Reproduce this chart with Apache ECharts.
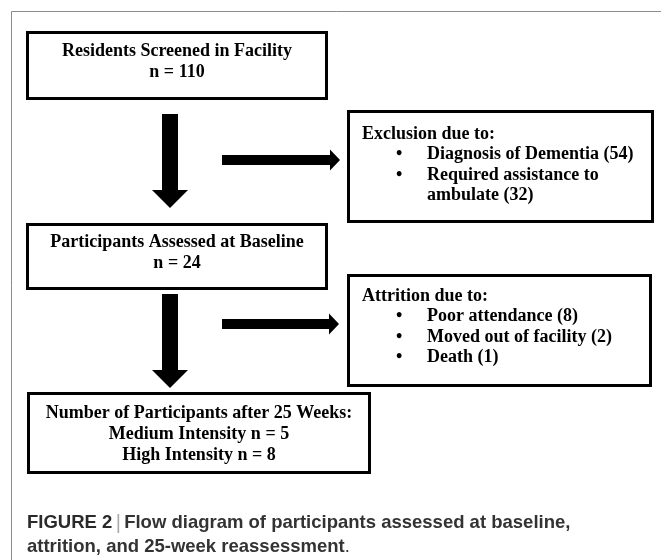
<!DOCTYPE html>
<html>
<head>
<meta charset="utf-8">
<script src="https://cdn.jsdelivr.net/npm/echarts@6/dist/echarts.min.js"></script>
<style>
  html, body { margin: 0; padding: 0; background: #fff; }
  #chart { width: 661px; height: 560px; }
</style>
</head>
<body>
<div id="chart"></div>
<script>
// flow steps (main column)
var stepTitles = ["Residents Screened in Facility", "Participants Assessed at Baseline", "Number of Participants after 25 Weeks:"];
var stepCounts = [110, 24];
var finalGroups = ["Medium Intensity", "High Intensity"];
var finalCounts = [5, 8];

// side boxes
var exclusionReasons = ["Diagnosis of Dementia", "Required assistance to\nambulate"];
var exclusionCounts = [54, 32];
var attritionReasons = ["Poor attendance", "Moved out of facility", "Death"];
var attritionCounts = [8, 2, 1];

var captionBold = "FIGURE 2";
var captionLines = ["Flow diagram of participants assessed at baseline,", "attrition, and 25-week reassessment"];

var serif = '"Liberation Serif", "Times New Roman", serif';
var boxFont = { fontFamily: serif, fontWeight: "bold", fontSize: 18, fill: "#000" };

function box(x, y, w, h) {
  return {
    type: "rect",
    shape: { x: x, y: y, width: w, height: h },
    style: { fill: "none", stroke: "#000", lineWidth: 3 }
  };
}

function centerText(txt, cx, cy) {
  return {
    type: "text",
    x: cx, y: cy,
    style: Object.assign({ text: txt, textAlign: "center", textVerticalAlign: "middle", lineHeight: 21 }, boxFont)
  };
}

function leftText(txt, x, cy) {
  return {
    type: "text",
    x: x, y: cy,
    style: Object.assign({ text: txt, textAlign: "left", textVerticalAlign: "middle", lineHeight: 20.5 }, boxFont)
  };
}

function downArrow(cx, top, headTop, tip) {
  return {
    type: "polygon",
    shape: {
      points: [[cx - 8, top], [cx + 8, top], [cx + 8, headTop], [cx + 18, headTop],
               [cx, tip], [cx - 18, headTop], [cx - 8, headTop]]
    },
    style: { fill: "#000" }
  };
}

function rightArrow(left, headLeft, tip, cy) {
  return {
    type: "polygon",
    shape: {
      points: [[left, cy - 5], [headLeft, cy - 5], [headLeft, cy - 10.5], [tip, cy],
               [headLeft, cy + 10.5], [headLeft, cy + 5], [left, cy + 5]]
    },
    style: { fill: "#000" }
  };
}

// side box text block: header + bullet list
function listBlock(header, reasons, counts, x, top) {
  var out = [leftText(header, x, top)];
  var y = top;
  reasons.forEach(function (r, i) {
    y += 20.5;
    out.push(leftText("\u2022", x + 34, y));
    var label = r + " (" + counts[i] + ")";
    out.push({
      type: "text",
      x: x + 65, y: y - 10.25,
      style: Object.assign({ text: label, textAlign: "left", textVerticalAlign: "top", lineHeight: 20.5 }, boxFont)
    });
    y += (label.split("\n").length - 1) * 20.5;
  });
  return out;
}

var chart = echarts.init(document.getElementById("chart"));

var elements = [
  // outer frame (top + left only)
  { type: "polyline", shape: { points: [[11.5, 560], [11.5, 11.5], [661, 11.5]] }, style: { stroke: "#8c8c8c", lineWidth: 1, fill: "none" } },

  box(27.5, 32.5, 299, 66),
  centerText(stepTitles[0] + "\nn = " + stepCounts[0], 177, 62),

  box(27.5, 224.5, 299, 64),
  centerText(stepTitles[1] + "\nn = " + stepCounts[1], 177, 253),

  box(28.5, 393.5, 341, 79),
  centerText(stepTitles[2] + "\n" +
    finalGroups.map(function (g, i) { return g + " n = " + finalCounts[i]; }).join("\n"), 199, 434),

  box(348.5, 111.5, 304, 110),
  box(348.5, 275.5, 302, 110),

  downArrow(170, 114, 190, 208),
  downArrow(170, 294, 370, 388),
  rightArrow(222, 330, 340, 160),
  rightArrow(222, 329, 339, 324)
];

elements = elements
  .concat(listBlock("Exclusion due to:", exclusionReasons, exclusionCounts, 362, 134))
  .concat(listBlock("Attrition due to:", attritionReasons, attritionCounts, 362, 296));

// caption
var capFont = '"Liberation Sans", Arial, sans-serif';
elements.push({
  type: "text",
  x: 27, y: 523,
  style: {
    text: "{b|" + captionBold + "} {bar||} {n|" + captionLines[0] + "}",
    textVerticalAlign: "middle",
    rich: {
      b: { fontFamily: capFont, fontWeight: "bold", fontSize: 18.5, fill: "#2a2a2a" },
      bar: { fontFamily: capFont, fontWeight: "normal", fontSize: 20, fill: "#aaa" },
      n: { fontFamily: capFont, fontWeight: "bold", fontSize: 18.5, fill: "#333" }
    }
  }
});
elements.push({
  type: "text",
  x: 27, y: 547,
  style: {
    text: "{n|" + captionLines[1] + "}{d|.}",
    textVerticalAlign: "middle",
    rich: {
      n: { fontFamily: capFont, fontWeight: "bold", fontSize: 18.5, fill: "#333" },
      d: { fontFamily: capFont, fontWeight: "normal", fontSize: 18.5, fill: "#333" }
    }
  }
});

chart.setOption({
  backgroundColor: "#fff",
  animation: false,
  graphic: { elements: elements }
});
</script>
</body>
</html>
